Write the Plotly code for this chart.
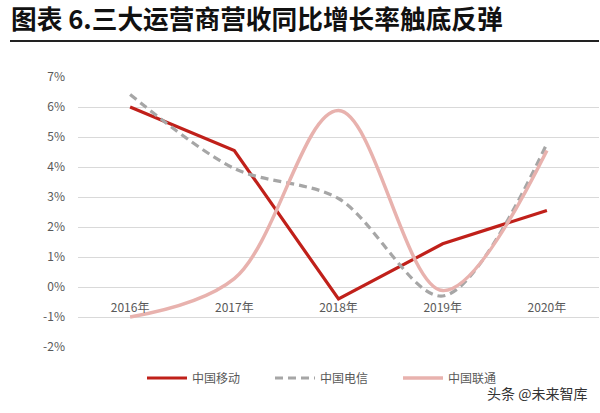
import plotly.graph_objects as go

years = ["2016年", "2017年", "2018年", "2019年", "2020年"]
mobile = [6.0, 4.55, -0.4, 1.44, 2.55]
telecom = [6.42, 3.95, 2.95, -0.3, 4.78]
unicom = [-1.0, 0.28, 5.88, -0.12, 4.55]
names = ["中国移动", "中国电信", "中国联通"]
ytick_vals = [-2, -1, 0, 1, 2, 3, 4, 5, 6, 7]
ytick_text = [f"{v}%" for v in ytick_vals]

FONT = "Noto Sans CJK SC"
W, H = 600, 413

fig = go.Figure()
fig.add_trace(go.Scatter(x=years, y=mobile, name=names[0], mode="lines",
                         line=dict(color="#C0201A", width=3.2)))
fig.add_trace(go.Scatter(x=years, y=telecom, name=names[1], mode="lines",
                         line=dict(color="#A6A6A6", width=3.2, dash="8px,5px",
                                   shape="spline", smoothing=0.9)))
fig.add_trace(go.Scatter(x=years, y=unicom, name=names[2], mode="lines",
                         line=dict(color="#E8B2AE", width=3.5,
                                   shape="spline", smoothing=1)))

fig.update_layout(
    width=W, height=H,
    margin=dict(l=78, r=1, t=77, b=66, autoexpand=False),
    paper_bgcolor="white", plot_bgcolor="white",
    font=dict(family=FONT, color="#595959", size=12),
    showlegend=True,
    legend=dict(orientation="h", x=334 / W, xanchor="center", xref="container",
                y=1 - 378 / H, yanchor="middle", yref="container",
                font=dict(size=12, color="#595959"), entrywidth=73,
                itemwidth=40, bgcolor="rgba(0,0,0,0)"),
    xaxis=dict(type="category", showgrid=False, zeroline=False, showline=False,
               range=[-0.5, 4.5], ticks="", anchor="free", position=2 / 9,
               automargin=False, ticklabelstandoff=12,
               tickfont=dict(size=12, color="#595959"), fixedrange=True),
    yaxis=dict(range=[-2, 7], tickvals=ytick_vals, ticktext=ytick_text,
               showgrid=True, gridcolor="#D9D9D9", gridwidth=1,
               zeroline=False, showline=False, ticks="", automargin=False,
               ticklabelstandoff=12,
               tickfont=dict(size=12, color="#595959"), fixedrange=True),
    title=dict(text="<b>图表 6.三大运营商营收同比增长率触底反弹</b>",
               x=11 / W, xref="container", xanchor="left",
               y=1 - 20 / H, yref="container", yanchor="middle",
               font=dict(family=FONT, size=25.7, color="#111111")),
)

fig.add_shape(type="line", xref="paper", yref="paper",
              x0=-68 / 521, x1=1, y0=1 + (77 - 41) / 270, y1=1 + (77 - 41) / 270,
              line=dict(color="#222222", width=2))

fig.add_annotation(text="头条 @未来智库", xref="paper", yref="paper",
                   x=1 - 10 / 521, xanchor="right",
                   y=-(393 - 347) / 270, yanchor="middle",
                   showarrow=False, font=dict(family=FONT, size=14, color="#333333"))

fig.write_html("out.html", config={"displayModeBar": False},
               post_script="document.body.style.margin='0';")
